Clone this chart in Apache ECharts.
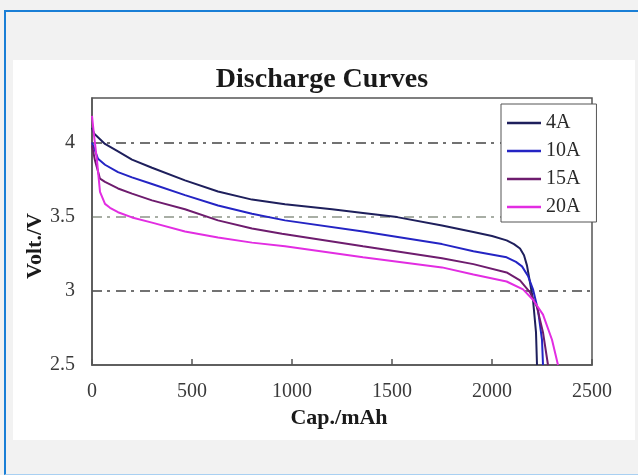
<!DOCTYPE html>
<html>
<head>
<meta charset="utf-8">
<script src="https://cdn.jsdelivr.net/npm/echarts@6/dist/echarts.min.js"></script>
<style>
  html, body { margin: 0; padding: 0; width: 638px; height: 475px; overflow: hidden; background: #f2f2f2; }
  #frame { position: absolute; left: 4px; top: 10px; width: 800px; height: 465px;
           border-left: 2px solid #1a7fd6; border-top: 2px solid #1a7fd6; border-bottom: 1px solid #a9d0f2; box-sizing: border-box; }
  #panel { position: absolute; left: 13px; top: 60px; width: 622px; height: 380px; background: #ffffff; }
  #chart { position: absolute; left: 0; top: 0; width: 638px; height: 475px; }
</style>
</head>
<body>
<div id="frame"></div>
<div id="panel"></div>
<div id="chart"></div>
<script>
// ---- data (Cap./mAh, Volt./V) ----
const seriesNames = ['4A', '10A', '15A', '20A'];
const xTicks = [0, 500, 1000, 1500, 2000, 2500];
const yTicks = [2.5, 3, 3.5, 4];

const curve4A = [[0,4.10],[10,4.06],[65,3.99],[130,3.94],[200,3.885],[300,3.83],[465,3.745],[630,3.67],[800,3.615],[965,3.583],[1200,3.55],[1355,3.525],[1525,3.497],[1750,3.44],[1907,3.396],[2000,3.37],[2073,3.34],[2110,3.315],[2140,3.285],[2160,3.24],[2175,3.17],[2190,3.056],[2205,2.94],[2220,2.72],[2225,2.5]];
const curve10A = [[0,4.00],[30,3.89],[65,3.85],[130,3.80],[200,3.765],[300,3.72],[465,3.645],[630,3.575],[800,3.52],[965,3.475],[1355,3.40],[1750,3.315],[1907,3.267],[2073,3.226],[2120,3.195],[2150,3.165],[2180,3.10],[2205,3.01],[2230,2.87],[2250,2.67],[2255,2.5]];
const curve15A = [[0,3.98],[15,3.878],[40,3.756],[65,3.735],[130,3.69],[200,3.655],[300,3.61],[465,3.55],[630,3.475],[800,3.42],[950,3.385],[1355,3.30],[1750,3.22],[1907,3.18],[2073,3.124],[2140,3.07],[2190,2.99],[2225,2.89],[2255,2.72],[2280,2.5]];
const curve20A = [[0,4.18],[10,4.05],[25,3.878],[40,3.667],[65,3.586],[90,3.56],[130,3.53],[200,3.495],[300,3.46],[465,3.40],[630,3.36],[800,3.325],[965,3.30],[1355,3.226],[1750,3.158],[1907,3.11],[2073,3.063],[2155,3.01],[2205,2.94],[2255,2.84],[2300,2.67],[2330,2.5]];

const curves = [curve4A, curve10A, curve15A, curve20A];
const colors = ['#1e1f5c', '#2424c4', '#6e1c6e', '#e22de2'];

const serif = 'Liberation Serif';
const chart = echarts.init(document.getElementById('chart'));
chart.setOption({
  backgroundColor: 'transparent',
  animation: false,
  title: {
    text: 'Discharge Curves',
    left: 322, top: 66, padding: 0, textAlign: 'center',
    textStyle: { fontFamily: serif, fontWeight: 'bold', fontSize: 28, color: '#1a1a1a' }
  },
  legend: {
    orient: 'vertical',
    left: 501, top: 104,
    padding: [9, 16, 5, 6],
    itemGap: 8, itemWidth: 34, itemHeight: 2.5, icon: 'rect',
    backgroundColor: '#ffffff', borderColor: '#555555', borderWidth: 1, borderRadius: 0,
    textStyle: { fontFamily: serif, fontSize: 20, color: '#2a2a2a', lineHeight: 20 },
    data: seriesNames
  },
  grid: {
    left: 92, top: 98, width: 500, height: 267,
    show: true, borderColor: '#555555', borderWidth: 1.5, backgroundColor: 'transparent'
  },
  xAxis: {
    type: 'value', min: xTicks[0], max: xTicks[xTicks.length - 1], interval: 500,
    axisLine: { show: true, lineStyle: { color: '#555', width: 1.5 } },
    axisTick: { show: true, inside: true, length: 6, lineStyle: { color: '#555', width: 1.5 } },
    axisLabel: { margin: 17, fontFamily: serif, fontSize: 20, color: '#3a3a3a',
      formatter: function (v) { return String(v); } },
    splitLine: { show: false }
  },
  yAxis: {
    type: 'value', min: yTicks[0], max: 4.3, interval: 0.5,
    axisLine: { show: true, lineStyle: { color: '#555', width: 1.5 } },
    axisTick: { show: false },
    axisLabel: { margin: 17, fontFamily: serif, fontSize: 20, color: '#3a3a3a', showMaxLabel: false,
      formatter: function (v) { return yTicks.indexOf(v) >= 0 ? String(v) : ''; } },
    splitLine: { show: true, lineStyle: { color: ['transparent', '#444', '#8c9488', '#444', 'transparent'], width: 1.5, type: [10, 5, 3, 6] } }
  },
  graphic: [
    { type: 'text', x: 339, y: 418, style: { text: 'Cap./mAh', textAlign: 'center', textVerticalAlign: 'middle',
        font: 'bold 22px "Liberation Serif"', fill: '#1a1a1a' } },
    { type: 'text', x: 35, y: 246, rotation: Math.PI / 2, style: { text: 'Volt./V', textAlign: 'center', textVerticalAlign: 'middle',
        font: 'bold 22px "Liberation Serif"', fill: '#1a1a1a' } }
  ],
  series: curves.map(function (d, i) {
    return {
      name: seriesNames[i], type: 'line', data: d,
      symbol: 'none', smooth: false,
      lineStyle: { color: colors[i], width: 2 }, itemStyle: { color: colors[i] }
    };
  })
});
</script>
</body>
</html>
